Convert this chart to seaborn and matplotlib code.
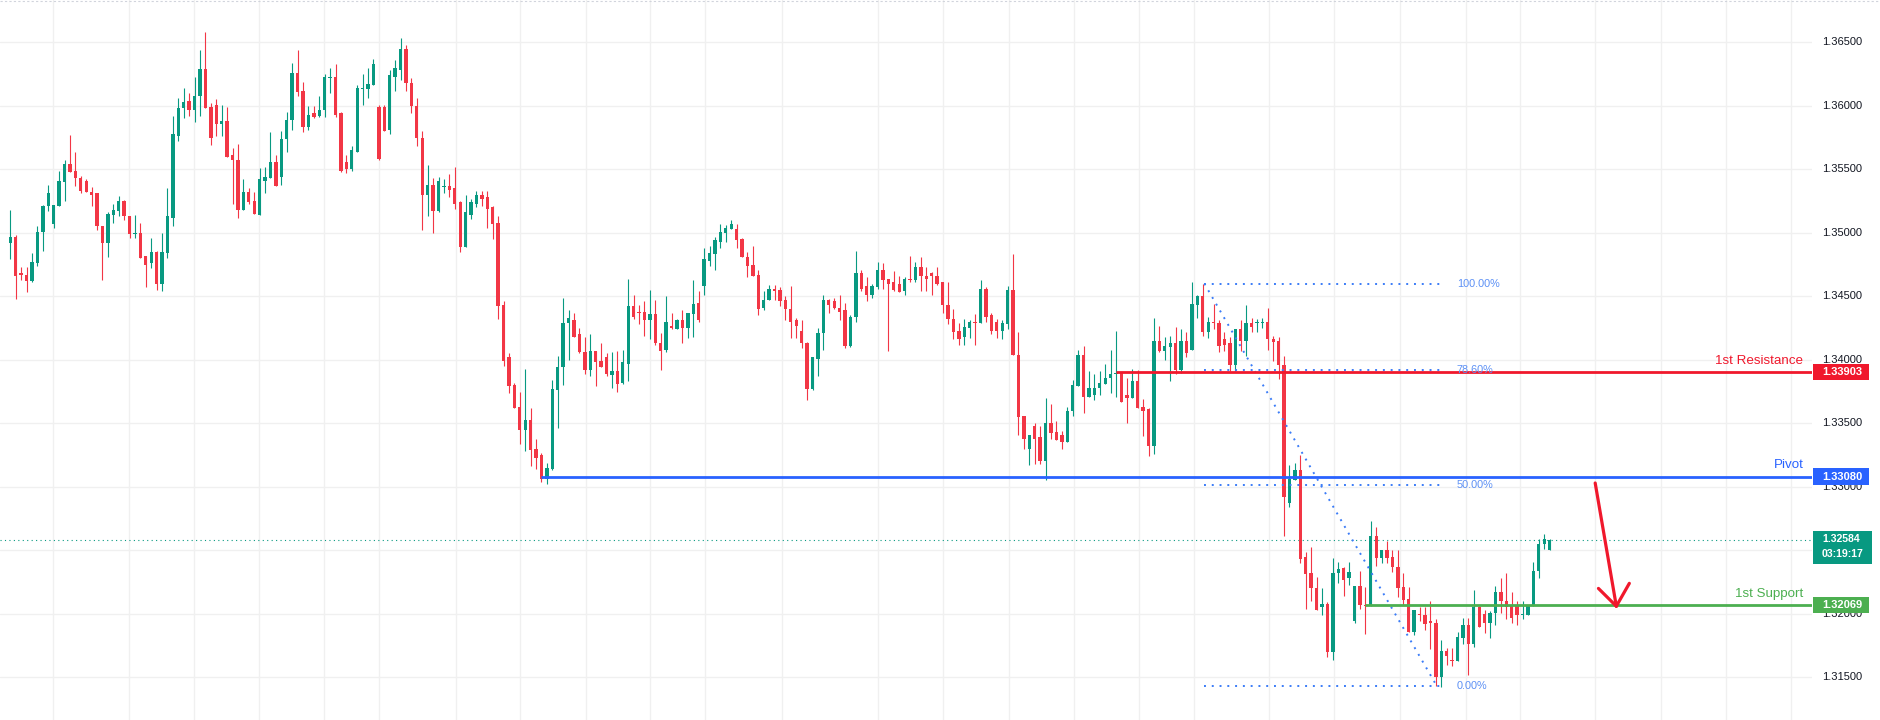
import numpy as np
import matplotlib
matplotlib.use("Agg")
import matplotlib.pyplot as plt
import matplotlib.transforms as mtransforms
from matplotlib.patches import Rectangle
import seaborn as sns

# OHLC candles (oldest first)
opens = [
    1.3492, 1.3497, 1.3468, 1.3467, 1.3462, 1.3476, 1.3501, 1.3521, 1.3507, 1.3521,
    1.3540, 1.3554, 1.3549, 1.3543, 1.3541, 1.3532, 1.3531, 1.3505, 1.3492, 1.3514,
    1.3517, 1.3525, 1.3513, 1.3499, 1.3500, 1.3482, 1.3476, 1.3485, 1.3460, 1.3484,
    1.3512, 1.3576, 1.3598, 1.3604, 1.3597, 1.3608, 1.3629, 1.3599, 1.3601, 1.3586,
    1.3588, 1.3561, 1.3557, 1.3518, 1.3532, 1.3525, 1.3514, 1.3541, 1.3543, 1.3556,
    1.3544, 1.3574, 1.3589, 1.3626, 1.3612, 1.3583, 1.3594, 1.3592, 1.3597, 1.3622,
    1.3623, 1.3594, 1.3556, 1.3550, 1.3564, 1.3613, 1.3613, 1.3616, 1.3599, 1.3599,
    1.3581, 1.3623, 1.3628, 1.3645, 1.3618, 1.3600, 1.3575, 1.3530, 1.3538, 1.3517,
    1.3536, 1.3537, 1.3535, 1.3524, 1.3489, 1.3514, 1.3523, 1.3530, 1.3528, 1.3520,
    1.3508, 1.3443, 1.3402, 1.3380, 1.3363, 1.3345, 1.3353, 1.3330, 1.3325, 1.3306,
    1.3314, 1.3376, 1.3394, 1.3429, 1.3431, 1.3420, 1.3406, 1.3392, 1.3407, 1.3399,
    1.3402, 1.3388, 1.3391, 1.3382, 1.3397, 1.3442, 1.3438, 1.3438, 1.3431, 1.3436,
    1.3413, 1.3408, 1.3427, 1.3424, 1.3431, 1.3425, 1.3436, 1.3445, 1.3458, 1.3478,
    1.3483, 1.3493, 1.3500, 1.3503, 1.3503, 1.3495, 1.3481, 1.3475, 1.3467, 1.3441,
    1.3447, 1.3456, 1.3455, 1.3447, 1.3440, 1.3431, 1.3423, 1.3413, 1.3377, 1.3401,
    1.3421, 1.3447, 1.3446, 1.3441, 1.3439, 1.3411, 1.3434, 1.3468, 1.3458, 1.3451,
    1.3457, 1.3471, 1.3464, 1.3461, 1.3460, 1.3454, 1.3464, 1.3463, 1.3473, 1.3466,
    1.3468, 1.3466, 1.3461, 1.3443, 1.3432, 1.3423, 1.3418, 1.3425, 1.3430, 1.3429,
    1.3456, 1.3435, 1.3430, 1.3423, 1.3428, 1.3455, 1.3404, 1.3356, 1.3330, 1.3348,
    1.3339, 1.3320, 1.3350, 1.3343, 1.3341, 1.3335, 1.3360, 1.3379, 1.3404, 1.3371,
    1.3372, 1.3378, 1.3381, 1.3386, 1.3389, 1.3390, 1.3372, 1.3370, 1.3383, 1.3363,
    1.3361, 1.3332, 1.3415, 1.3407, 1.3410, 1.3413, 1.3392, 1.3415, 1.3408, 1.3443,
    1.3450, 1.3422, 1.3430, 1.3429, 1.3416, 1.3413, 1.3396, 1.3424, 1.3415, 1.3429,
    1.3429, 1.3429, 1.3430, 1.3416, 1.3415, 1.3396, 1.3287, 1.3305, 1.3313, 1.3245,
    1.3232, 1.3220, 1.3205, 1.3208, 1.3170, 1.3232, 1.3236, 1.3228, 1.3194, 1.3222,
    1.3207, 1.3206, 1.3261, 1.3244, 1.3250, 1.3245, 1.3237, 1.3221, 1.3212, 1.3186,
    1.3200, 1.3199, 1.3194, 1.3193, 1.3150, 1.3171, 1.3164, 1.3163, 1.3181, 1.3191,
    1.3176, 1.3205, 1.3200, 1.3193, 1.3201, 1.3217, 1.3210, 1.3207, 1.3207, 1.3199,
    1.3199, 1.3207, 1.3234, 1.3255, 1.3250,
]
highs = [
    1.3518, 1.3498, 1.3473, 1.3473, 1.3484, 1.3505, 1.3522, 1.3538, 1.3522, 1.3549,
    1.3557, 1.3577, 1.3564, 1.3545, 1.3542, 1.3536, 1.3531, 1.3505, 1.3516, 1.3523,
    1.3529, 1.3526, 1.3513, 1.3514, 1.3508, 1.3482, 1.3496, 1.3486, 1.3500, 1.3535,
    1.3592, 1.3606, 1.3614, 1.3610, 1.3623, 1.3644, 1.3658, 1.3602, 1.3605, 1.3601,
    1.3599, 1.3567, 1.3570, 1.3542, 1.3535, 1.3532, 1.3551, 1.3552, 1.3579, 1.3561,
    1.3580, 1.3595, 1.3634, 1.3644, 1.3619, 1.3600, 1.3600, 1.3608, 1.3625, 1.3630,
    1.3633, 1.3595, 1.3561, 1.3568, 1.3616, 1.3625, 1.3630, 1.3637, 1.3601, 1.3601,
    1.3628, 1.3636, 1.3653, 1.3648, 1.3622, 1.3606, 1.3580, 1.3553, 1.3543, 1.3544,
    1.3542, 1.3546, 1.3552, 1.3525, 1.3530, 1.3527, 1.3533, 1.3533, 1.3533, 1.3521,
    1.3513, 1.3446, 1.3405, 1.3382, 1.3375, 1.3393, 1.3362, 1.3338, 1.3327, 1.3319,
    1.3384, 1.3403, 1.3449, 1.3439, 1.3437, 1.3425, 1.3418, 1.3420, 1.3407, 1.3413,
    1.3405, 1.3406, 1.3407, 1.3408, 1.3464, 1.3451, 1.3443, 1.3446, 1.3455, 1.3447,
    1.3421, 1.3450, 1.3437, 1.3432, 1.3439, 1.3437, 1.3463, 1.3454, 1.3488, 1.3490,
    1.3497, 1.3507, 1.3506, 1.3510, 1.3507, 1.3496, 1.3485, 1.3490, 1.3471, 1.3454,
    1.3459, 1.3459, 1.3457, 1.3450, 1.3458, 1.3433, 1.3431, 1.3414, 1.3402, 1.3425,
    1.3451, 1.3448, 1.3449, 1.3451, 1.3445, 1.3435, 1.3486, 1.3471, 1.3465, 1.3460,
    1.3477, 1.3476, 1.3464, 1.3470, 1.3466, 1.3465, 1.3482, 1.3477, 1.3481, 1.3473,
    1.3469, 1.3473, 1.3461, 1.3461, 1.3440, 1.3429, 1.3432, 1.3431, 1.3436, 1.3463,
    1.3457, 1.3437, 1.3432, 1.3431, 1.3458, 1.3483, 1.3422, 1.3356, 1.3341, 1.3350,
    1.3348, 1.3370, 1.3365, 1.3352, 1.3344, 1.3363, 1.3384, 1.3408, 1.3411, 1.3391,
    1.3389, 1.3391, 1.3397, 1.3408, 1.3423, 1.3390, 1.3386, 1.3393, 1.3392, 1.3369,
    1.3362, 1.3433, 1.3427, 1.3418, 1.3419, 1.3426, 1.3424, 1.3422, 1.3461, 1.3451,
    1.3460, 1.3434, 1.3444, 1.3431, 1.3422, 1.3418, 1.3424, 1.3431, 1.3443, 1.3433,
    1.3432, 1.3433, 1.3441, 1.3419, 1.3418, 1.3403, 1.3317, 1.3319, 1.3325, 1.3249,
    1.3253, 1.3229, 1.3220, 1.3209, 1.3244, 1.3241, 1.3237, 1.3241, 1.3222, 1.3234,
    1.3221, 1.3273, 1.3268, 1.3250, 1.3257, 1.3250, 1.3250, 1.3232, 1.3221, 1.3203,
    1.3205, 1.3205, 1.3210, 1.3196, 1.3179, 1.3173, 1.3173, 1.3186, 1.3197, 1.3197,
    1.3219, 1.3206, 1.3203, 1.3202, 1.3222, 1.3228, 1.3232, 1.3217, 1.3210, 1.3210,
    1.3207, 1.3241, 1.3259, 1.3263, 1.3259,
]
lows = [
    1.3479, 1.3448, 1.3463, 1.3453, 1.3461, 1.3474, 1.3486, 1.3517, 1.3504, 1.3521,
    1.3525, 1.3548, 1.3537, 1.3531, 1.3532, 1.3521, 1.3502, 1.3463, 1.3481, 1.3508,
    1.3513, 1.3510, 1.3496, 1.3496, 1.3480, 1.3457, 1.3472, 1.3455, 1.3454, 1.3480,
    1.3505, 1.3572, 1.3590, 1.3592, 1.3587, 1.3592, 1.3598, 1.3569, 1.3576, 1.3576,
    1.3560, 1.3523, 1.3512, 1.3518, 1.3523, 1.3515, 1.3514, 1.3531, 1.3543, 1.3537,
    1.3538, 1.3564, 1.3581, 1.3608, 1.3579, 1.3581, 1.3590, 1.3591, 1.3591, 1.3610,
    1.3591, 1.3548, 1.3547, 1.3549, 1.3564, 1.3601, 1.3606, 1.3616, 1.3557, 1.3580,
    1.3578, 1.3612, 1.3620, 1.3612, 1.3594, 1.3568, 1.3502, 1.3513, 1.3500, 1.3516,
    1.3531, 1.3528, 1.3519, 1.3485, 1.3489, 1.3511, 1.3520, 1.3521, 1.3504, 1.3495,
    1.3432, 1.3395, 1.3374, 1.3362, 1.3334, 1.3328, 1.3316, 1.3314, 1.3304, 1.3302,
    1.3313, 1.3346, 1.3380, 1.3400, 1.3418, 1.3405, 1.3389, 1.3387, 1.3379, 1.3394,
    1.3387, 1.3378, 1.3375, 1.3381, 1.3383, 1.3432, 1.3428, 1.3419, 1.3416, 1.3412,
    1.3392, 1.3406, 1.3424, 1.3424, 1.3413, 1.3417, 1.3418, 1.3430, 1.3451, 1.3474,
    1.3471, 1.3488, 1.3493, 1.3503, 1.3488, 1.3481, 1.3465, 1.3466, 1.3435, 1.3439,
    1.3447, 1.3447, 1.3442, 1.3431, 1.3417, 1.3417, 1.3409, 1.3368, 1.3376, 1.3387,
    1.3408, 1.3437, 1.3440, 1.3431, 1.3409, 1.3410, 1.3430, 1.3454, 1.3446, 1.3449,
    1.3456, 1.3456, 1.3407, 1.3454, 1.3453, 1.3451, 1.3461, 1.3461, 1.3454, 1.3454,
    1.3451, 1.3459, 1.3437, 1.3428, 1.3416, 1.3412, 1.3412, 1.3417, 1.3412, 1.3429,
    1.3430, 1.3420, 1.3417, 1.3416, 1.3424, 1.3404, 1.3341, 1.3330, 1.3317, 1.3318,
    1.3318, 1.3305, 1.3338, 1.3337, 1.3330, 1.3335, 1.3356, 1.3379, 1.3358, 1.3371,
    1.3368, 1.3372, 1.3381, 1.3374, 1.3371, 1.3367, 1.3350, 1.3370, 1.3362, 1.3340,
    1.3324, 1.3326, 1.3406, 1.3400, 1.3383, 1.3389, 1.3390, 1.3402, 1.3408, 1.3433,
    1.3419, 1.3417, 1.3424, 1.3406, 1.3407, 1.3391, 1.3391, 1.3407, 1.3403, 1.3422,
    1.3422, 1.3425, 1.3408, 1.3399, 1.3385, 1.3261, 1.3284, 1.3305, 1.3240, 1.3204,
    1.3210, 1.3203, 1.3199, 1.3166, 1.3164, 1.3224, 1.3214, 1.3223, 1.3193, 1.3204,
    1.3184, 1.3206, 1.3238, 1.3240, 1.3240, 1.3233, 1.3213, 1.3207, 1.3186, 1.3183,
    1.3194, 1.3187, 1.3172, 1.3143, 1.3142, 1.3160, 1.3159, 1.3163, 1.3176, 1.3152,
    1.3174, 1.3190, 1.3185, 1.3181, 1.3191, 1.3201, 1.3196, 1.3193, 1.3191, 1.3196,
    1.3199, 1.3206, 1.3228, 1.3251, 1.3250,
]
closes = [
    1.3497, 1.3466, 1.3467, 1.3462, 1.3477, 1.3501, 1.3521, 1.3531, 1.3522, 1.3541,
    1.3554, 1.3548, 1.3543, 1.3533, 1.3532, 1.3530, 1.3505, 1.3492, 1.3515, 1.3518,
    1.3525, 1.3513, 1.3499, 1.3500, 1.3480, 1.3475, 1.3485, 1.3460, 1.3485, 1.3513,
    1.3578, 1.3598, 1.3603, 1.3597, 1.3608, 1.3629, 1.3598, 1.3575, 1.3586, 1.3588,
    1.3560, 1.3557, 1.3518, 1.3532, 1.3524, 1.3515, 1.3542, 1.3544, 1.3556, 1.3537,
    1.3574, 1.3589, 1.3626, 1.3611, 1.3583, 1.3593, 1.3591, 1.3597, 1.3623, 1.3623,
    1.3593, 1.3549, 1.3550, 1.3565, 1.3614, 1.3614, 1.3617, 1.3633, 1.3558, 1.3580,
    1.3624, 1.3630, 1.3645, 1.3618, 1.3600, 1.3575, 1.3530, 1.3538, 1.3517, 1.3541,
    1.3537, 1.3534, 1.3523, 1.3489, 1.3516, 1.3524, 1.3530, 1.3527, 1.3519, 1.3507,
    1.3442, 1.3399, 1.3379, 1.3362, 1.3345, 1.3353, 1.3329, 1.3323, 1.3306, 1.3315,
    1.3377, 1.3394, 1.3429, 1.3433, 1.3418, 1.3406, 1.3392, 1.3407, 1.3398, 1.3394,
    1.3389, 1.3391, 1.3381, 1.3398, 1.3442, 1.3434, 1.3437, 1.3431, 1.3436, 1.3413,
    1.3407, 1.3430, 1.3425, 1.3431, 1.3425, 1.3437, 1.3444, 1.3431, 1.3479, 1.3484,
    1.3494, 1.3501, 1.3504, 1.3507, 1.3494, 1.3481, 1.3474, 1.3466, 1.3440, 1.3447,
    1.3456, 1.3454, 1.3446, 1.3440, 1.3430, 1.3427, 1.3413, 1.3377, 1.3402, 1.3421,
    1.3447, 1.3443, 1.3441, 1.3438, 1.3411, 1.3434, 1.3468, 1.3456, 1.3451, 1.3458,
    1.3471, 1.3463, 1.3460, 1.3455, 1.3453, 1.3464, 1.3463, 1.3473, 1.3466, 1.3464,
    1.3466, 1.3460, 1.3443, 1.3432, 1.3422, 1.3416, 1.3426, 1.3430, 1.3429, 1.3456,
    1.3434, 1.3423, 1.3423, 1.3429, 1.3455, 1.3404, 1.3355, 1.3338, 1.3341, 1.3338,
    1.3320, 1.3350, 1.3342, 1.3337, 1.3335, 1.3360, 1.3380, 1.3404, 1.3371, 1.3378,
    1.3378, 1.3382, 1.3386, 1.3389, 1.3390, 1.3367, 1.3370, 1.3383, 1.3362, 1.3360,
    1.3332, 1.3415, 1.3407, 1.3411, 1.3413, 1.3392, 1.3415, 1.3405, 1.3444, 1.3450,
    1.3422, 1.3430, 1.3429, 1.3411, 1.3412, 1.3396, 1.3424, 1.3415, 1.3429, 1.3426,
    1.3430, 1.3430, 1.3416, 1.3414, 1.3396, 1.3292, 1.3306, 1.3313, 1.3243, 1.3231,
    1.3220, 1.3203, 1.3208, 1.3170, 1.3232, 1.3235, 1.3227, 1.3233, 1.3222, 1.3207,
    1.3206, 1.3261, 1.3244, 1.3250, 1.3244, 1.3237, 1.3220, 1.3211, 1.3186, 1.3203,
    1.3199, 1.3192, 1.3193, 1.3150, 1.3171, 1.3167, 1.3163, 1.3182, 1.3191, 1.3176,
    1.3205, 1.3190, 1.3193, 1.3201, 1.3217, 1.3210, 1.3205, 1.3197, 1.3199, 1.3200,
    1.3207, 1.3234, 1.3255, 1.3259, 1.32584,
]

price_ticks = [1.315, 1.320, 1.325, 1.330, 1.335, 1.340, 1.345, 1.350, 1.355, 1.360, 1.365]
tick_labels = ["1.31500", "1.32000", "1.32500", "1.33000", "1.33500", "1.34000",
               "1.34500", "1.35000", "1.35500", "1.36000", "1.36500"]

# levels drawn on the chart
resistance = 1.33903
pivot = 1.33080
support = 1.32069
last_price = 1.32584
countdown = "03:19:17"
fib_high = 1.3460
fib_low = 1.3143
fib_ratios = [1.0, 0.786, 0.5, 0.0]
fib_labels = ["100.00%", "78.60%", "50.00%", "0.00%"]

# anchors of the hand drawings, in candle numbers
res_start, pivot_start, sup_start = 204, 98, 250
fib_start, fib_end, fib_diag_end = 220.3, 264.7, 263.2
arrow_tail = (292.4, 1.3303)
arrow_tip = (296.3, 1.3206)
arrow_wings = [(293.0, 1.3220), (298.7, 1.3224)]
time_grid = [7.9, 21.9, 33.9, 45.9, 57.9, 68.0, 82.2, 94.1, 106.2, 118.1, 128.2, 142.3,
             160.1, 172.1, 184.3, 196.3, 208.3, 218.3, 232.3, 244.3, 256.3, 268.6, 278.6,
             292.4, 304.5, 316.5, 328.5]

UP, DOWN = "#089981", "#f23645"
RED, BLUE, GREEN = "#f0182c", "#2962ff", "#4caf50"
FIB = "#3b7cf7"

sns.set_theme(style="white")
plt.rcParams["font.family"] = ["Liberation Sans", "DejaVu Sans"]

W, H = 1880, 720
fig = plt.figure(figsize=(W / 100, H / 100), dpi=100)
ax = fig.add_axes([0, 0, 1812 / W, 1])
ax.set_xlim(-1.9, 332.4)
ax.set_ylim(1.31164, 1.36833)
ax.set_xticks([])
ax.set_yticks([])
sns.despine(ax=ax, left=True, bottom=True, right=True, top=True)

for y in price_ticks:
    ax.axhline(y, color="#f0f0f0", lw=1, zorder=0)
for x in time_grid:
    ax.axvline(x, color="#f0f0f0", lw=1, zorder=0)

o = np.array(opens)
h = np.array(highs)
l = np.array(lows)
c = np.array(closes)
idx = np.arange(len(o))
cols = np.where(c >= o, UP, DOWN)

ax.vlines(idx, l, h, colors=cols, lw=0.8, zorder=3)
body = np.maximum(np.abs(c - o), 0.00008)
ax.bar(idx, body, bottom=np.minimum(o, c), width=0.62, color=cols, lw=0, zorder=4)

# last price line
ax.axhline(last_price, color=UP, lw=0.8, ls=(0, (1, 3)), zorder=2)

# fibonacci retracement
xr = ax.get_xlim()[1]
for r, lab in zip(fib_ratios, fib_labels):
    lvl = fib_low + r * (fib_high - fib_low)
    ax.plot([fib_start, fib_end], [lvl, lvl], color=FIB, lw=1.4, ls=(0, (1, 3)), zorder=5)
    ax.text(266.9, lvl, lab, color="#5c90f5", fontsize=7.8, va="center", ha="left", zorder=6)
ax.plot([fib_start, fib_diag_end], [fib_high, fib_low], color=FIB, lw=1.4,
        ls=(0, (1, 3)), zorder=5)

# support / pivot / resistance
ax.hlines(resistance, res_start, xr, color=RED, lw=2, zorder=5)
ax.hlines(pivot, pivot_start, xr, color=BLUE, lw=2, zorder=5)
ax.hlines(support, sup_start, xr, color=GREEN, lw=2, zorder=5)
for lvl, name, col in [(resistance, "1st Resistance", RED), (pivot, "Pivot", BLUE),
                       (support, "1st Support", GREEN)]:
    ax.annotate(name, xy=(330.8, lvl), xytext=(0, 4), textcoords="offset points",
                ha="right", va="bottom", color=col, fontsize=9.6, zorder=6)

# arrow
ax.plot([arrow_tail[0], arrow_tip[0]], [arrow_tail[1], arrow_tip[1]], color=RED,
        lw=2.3, solid_capstyle="round", zorder=6)
for wx, wy in arrow_wings:
    ax.plot([wx, arrow_tip[0]], [wy, arrow_tip[1]], color=RED, lw=2.3,
            solid_capstyle="round", zorder=6)

# price scale on the right
trans = mtransforms.blended_transform_factory(fig.transFigure, ax.transData)
lx = 1822 / W
px = 0.000079  # price per pixel
box_top, box_bottom = last_price + 8.5 * px, last_price - 24 * px
for y, s in zip(price_ticks, tick_labels):
    if box_bottom < y < box_top:
        continue  # hidden under the last price tag
    fig.text(lx, y, s, transform=trans, fontsize=8, color="#131722", va="center", ha="left")

bx, bw = 1812.7 / W, 56.6 / W
for lvl, col in [(resistance, RED), (pivot, BLUE), (support, GREEN)]:
    fig.add_artist(Rectangle((bx, lvl - 8.2 * px), bw, 16.4 * px, transform=trans,
                             color=col, lw=0, zorder=8))
    fig.text(lx, lvl, f"{lvl:.5f}", transform=trans, fontsize=8, color="white",
             fontweight="semibold", va="center", ha="left", zorder=9)
fig.add_artist(Rectangle((bx, box_bottom), 59.6 / W, box_top - box_bottom,
                         transform=trans, color=UP, lw=0, zorder=8))
fig.text(lx, last_price + 0.5 * px, f"{last_price:.5f}", transform=trans, fontsize=7.6,
         color="white", fontweight="semibold", va="center", ha="left", zorder=9)
fig.text(lx, last_price - 14.5 * px, countdown, transform=trans, fontsize=7.6,
         color="white", fontweight="semibold", va="center", ha="left", zorder=9)

fig.add_artist(plt.Line2D([0, 1], [0.9993, 0.9993], transform=fig.transFigure,
                          color="#d1d4dc", lw=0.8, ls=(0, (2, 2))))

fig.savefig("out.png", dpi=100, facecolor="white")
